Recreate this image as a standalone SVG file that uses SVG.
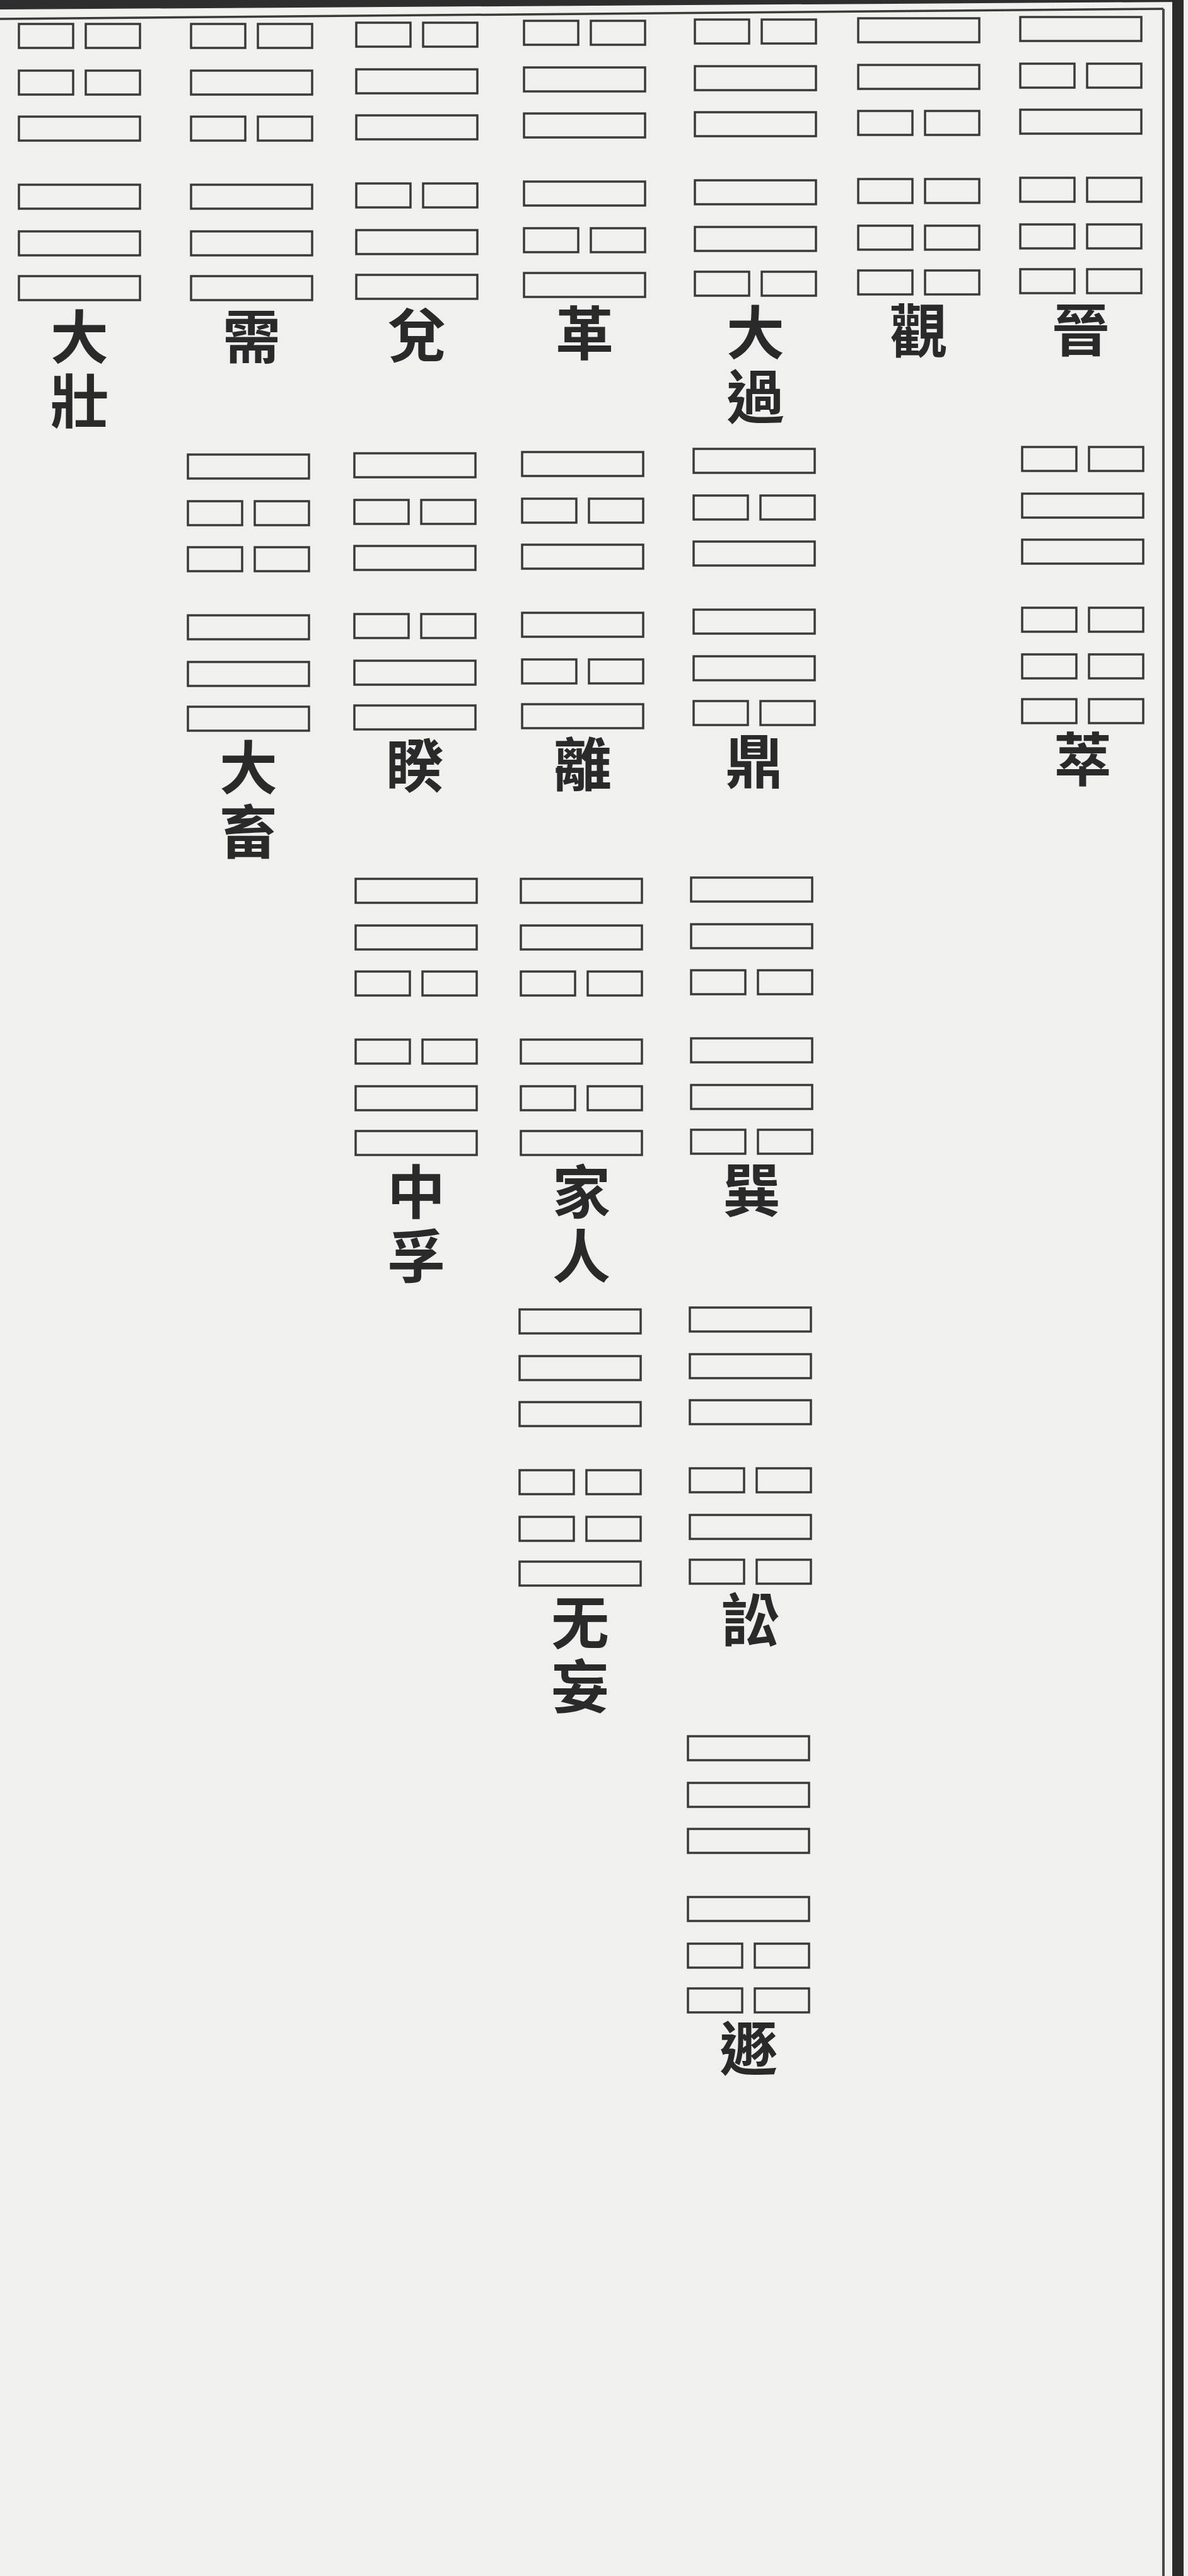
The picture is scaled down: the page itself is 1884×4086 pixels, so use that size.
<svg xmlns="http://www.w3.org/2000/svg" xmlns:xlink="http://www.w3.org/1999/xlink" width="1884" height="4086" viewBox="0 0 1884 4086">
<style>
.ln{fill:none;stroke:#3a3a3a;stroke-width:3.5}
.lb{font-family:"Noto Sans CJK TC","Noto Sans CJK JP",sans-serif;font-size:92px;font-weight:700;text-anchor:middle;fill:#2a2a2a}
.lv{font-family:"Noto Sans CJK TC","Noto Sans CJK JP",sans-serif;font-size:92px;font-weight:700;text-anchor:start;fill:#2a2a2a;writing-mode:vertical-rl;letter-spacing:10px}
</style>
<defs>
<g id="yang"><rect class="ln" x="0" y="0" width="192" height="38" fill="none" stroke="#3a3a3a" stroke-width="3.5"/></g>
<g id="yin"><rect class="ln" x="0" y="0" width="86" height="38" fill="none" stroke="#3a3a3a" stroke-width="3.5"/><rect class="ln" x="106" y="0" width="86" height="38" fill="none" stroke="#3a3a3a" stroke-width="3.5"/></g>
</defs>
<rect x="0" y="0" width="1884" height="4086" fill="#f0f0ee"/>
<g id="frame">
<polygon points="0,0 1877,0 1877,3 0,15" fill="#2e2e2e"/>
<line x1="0" y1="30" x2="1845" y2="14" stroke="#3a3a3a" stroke-width="3.5"/>
<line x1="1845" y1="14" x2="1845" y2="4086" stroke="#4a4a4a" stroke-width="4"/>
<rect x="1859" y="0" width="18" height="4086" fill="#2b2b2b"/>
</g>

<g id="hex-dazhuang" transform="translate(30,38)">
<use href="#yin" y="0"/><use href="#yin" y="74"/><use href="#yang" y="147"/>
<use href="#yang" y="255"/><use href="#yang" y="329"/><use href="#yang" y="400"/>
<text class="lv" x="96" y="450">大壯</text>
</g>

<g id="hex-xu" transform="translate(303,38)">
<use href="#yin" y="0"/><use href="#yang" y="74"/><use href="#yin" y="147"/>
<use href="#yang" y="255"/><use href="#yang" y="329"/><use href="#yang" y="400"/>
<text class="lb" x="96" y="530">需</text>
</g>

<g id="hex-daxu" transform="translate(298,721)">
<use href="#yang" y="0"/><use href="#yin" y="74"/><use href="#yin" y="147"/>
<use href="#yang" y="255"/><use href="#yang" y="329"/><use href="#yang" y="400"/>
<text class="lv" x="96" y="450">大畜</text>
</g>

<g id="hex-dui" transform="translate(565,36)">
<use href="#yin" y="0"/><use href="#yang" y="74"/><use href="#yang" y="147"/>
<use href="#yin" y="255"/><use href="#yang" y="329"/><use href="#yang" y="400"/>
<text class="lb" x="96" y="530">兌</text>
</g>

<g id="hex-kui" transform="translate(562,719)">
<use href="#yang" y="0"/><use href="#yin" y="74"/><use href="#yang" y="147"/>
<use href="#yin" y="255"/><use href="#yang" y="329"/><use href="#yang" y="400"/>
<text class="lb" x="96" y="530">睽</text>
</g>

<g id="hex-zhongfu" transform="translate(564,1394)">
<use href="#yang" y="0"/><use href="#yang" y="74"/><use href="#yin" y="147"/>
<use href="#yin" y="255"/><use href="#yang" y="329"/><use href="#yang" y="400"/>
<text class="lv" x="96" y="450">中孚</text>
</g>

<g id="hex-ge" transform="translate(831,33)">
<use href="#yin" y="0"/><use href="#yang" y="74"/><use href="#yang" y="147"/>
<use href="#yang" y="255"/><use href="#yin" y="329"/><use href="#yang" y="400"/>
<text class="lb" x="96" y="530">革</text>
</g>

<g id="hex-li" transform="translate(828,717)">
<use href="#yang" y="0"/><use href="#yin" y="74"/><use href="#yang" y="147"/>
<use href="#yang" y="255"/><use href="#yin" y="329"/><use href="#yang" y="400"/>
<text class="lb" x="96" y="530">離</text>
</g>

<g id="hex-jiaren" transform="translate(826,1394)">
<use href="#yang" y="0"/><use href="#yang" y="74"/><use href="#yin" y="147"/>
<use href="#yang" y="255"/><use href="#yin" y="329"/><use href="#yang" y="400"/>
<text class="lv" x="96" y="450">家人</text>
</g>

<g id="hex-wuwang" transform="translate(824,2077)">
<use href="#yang" y="0"/><use href="#yang" y="74"/><use href="#yang" y="147"/>
<use href="#yin" y="255"/><use href="#yin" y="329"/><use href="#yang" y="400"/>
<text class="lv" x="96" y="450">无妄</text>
</g>

<g id="hex-daguo" transform="translate(1102,31)">
<use href="#yin" y="0"/><use href="#yang" y="74"/><use href="#yang" y="147"/>
<use href="#yang" y="255"/><use href="#yang" y="329"/><use href="#yin" y="400"/>
<text class="lv" x="96" y="450">大過</text>
</g>

<g id="hex-ding" transform="translate(1100,712)">
<use href="#yang" y="0"/><use href="#yin" y="74"/><use href="#yang" y="147"/>
<use href="#yang" y="255"/><use href="#yang" y="329"/><use href="#yin" y="400"/>
<text class="lb" x="96" y="530">鼎</text>
</g>

<g id="hex-xun" transform="translate(1096,1392)">
<use href="#yang" y="0"/><use href="#yang" y="74"/><use href="#yin" y="147"/>
<use href="#yang" y="255"/><use href="#yang" y="329"/><use href="#yin" y="400"/>
<text class="lb" x="96" y="530">巽</text>
</g>

<g id="hex-song" transform="translate(1094,2074)">
<use href="#yang" y="0"/><use href="#yang" y="74"/><use href="#yang" y="147"/>
<use href="#yin" y="255"/><use href="#yang" y="329"/><use href="#yin" y="400"/>
<text class="lb" x="96" y="530">訟</text>
</g>

<g id="hex-dun" transform="translate(1091,2754)">
<use href="#yang" y="0"/><use href="#yang" y="74"/><use href="#yang" y="147"/>
<use href="#yang" y="255"/><use href="#yin" y="329"/><use href="#yin" y="400"/>
<text class="lb" x="96" y="530">遯</text>
</g>

<g id="hex-guan" transform="translate(1361,29)">
<use href="#yang" y="0"/><use href="#yang" y="74"/><use href="#yin" y="147"/>
<use href="#yin" y="255"/><use href="#yin" y="329"/><use href="#yin" y="400"/>
<text class="lb" x="96" y="530">觀</text>
</g>

<g id="hex-jin" transform="translate(1618,27)">
<use href="#yang" y="0"/><use href="#yin" y="74"/><use href="#yang" y="147"/>
<use href="#yin" y="255"/><use href="#yin" y="329"/><use href="#yin" y="400"/>
<text class="lb" x="96" y="530">晉</text>
</g>

<g id="hex-cui" transform="translate(1621,709)">
<use href="#yin" y="0"/><use href="#yang" y="74"/><use href="#yang" y="147"/>
<use href="#yin" y="255"/><use href="#yin" y="329"/><use href="#yin" y="400"/>
<text class="lb" x="96" y="530">萃</text>
</g>
</svg>
